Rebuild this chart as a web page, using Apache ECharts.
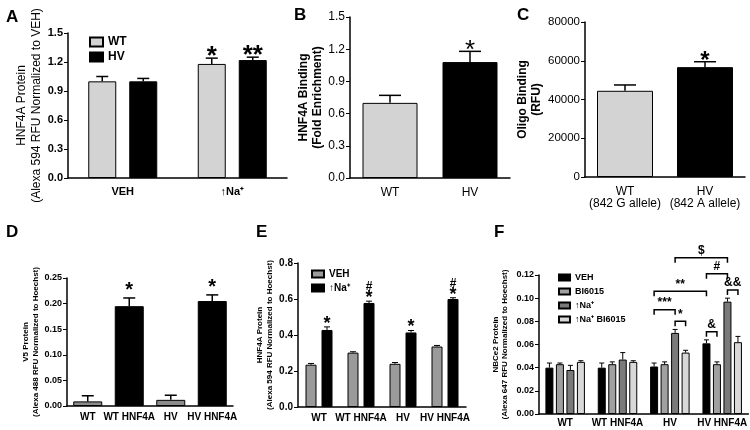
<!DOCTYPE html>
<html>
<head>
<meta charset="utf-8">
<script src="https://cdn.jsdelivr.net/npm/echarts@6/dist/echarts.min.js"></script>
<style>html,body{margin:0;padding:0;background:#fff}#c{width:750px;height:430px}</style>
</head>
<body>
<div id="c"></div>
<script>
// ---------- DATA ----------
// Panel A
const aCats = ['VEH', '↑Na⁺'];
const aWT = [1.00, 1.18];
const aWTTop = [1.05, 1.24];
const aHV = [1.00, 1.22];
const aHVTop = [1.03, 1.25];
const aWTSig = ['', '*'];
const aHVSig = ['', '**'];
// Panel B
const bCats = ['WT', 'HV'];
const bVals = [0.70, 1.08];
const bTop = [0.77, 1.18];
const bSig = ['', '*'];
// Panel C
const cCats = ['WT\n(842 G allele)', 'HV\n(842 A allele)'];
const cVals = [44500, 56700];
const cTop = [47500, 59500];
const cSig = ['', '*'];
// Panel D
const dCats = ['WT', 'WT HNF4A', 'HV', 'HV HNF4A'];
const dVals = [0.009, 0.195, 0.012, 0.205];
const dTop = [0.020, 0.211, 0.021, 0.217];
const dSig = ['', '*', '', '*'];
// Panel E
const eCats = ['WT', 'WT HNF4A', 'HV', 'HV HNF4A'];
const eVEH = [0.235, 0.302, 0.240, 0.336];
const eVEHTop = [0.242, 0.307, 0.247, 0.342];
const eNa = [0.428, 0.578, 0.414, 0.600];
const eNaTop = [0.445, 0.588, 0.425, 0.607];
const eNaSig = ['*', '#\n*', '*', '#\n*'];
// Panel F
const fCats = ['WT', 'WT HNF4A', 'HV', 'HV HNF4A'];
const fVEH = [0.040, 0.040, 0.041, 0.061];
const fVEHTop = [0.044, 0.044, 0.044, 0.064];
const fBI = [0.043, 0.043, 0.043, 0.043];
const fBITop = [0.044, 0.045, 0.045, 0.045];
const fNa = [0.038, 0.047, 0.070, 0.097];
const fNaTop = [0.042, 0.053, 0.073, 0.100];
const fNaBI = [0.045, 0.045, 0.053, 0.062];
const fNaBITop = [0.046, 0.046, 0.055, 0.067];
// brackets: [fromCategory, fromBar, toCategory, toBar, yValue]
const fBrackets = [
  [2, 0, 2, 2, 0.090],
  [2, 2, 2, 3, 0.080],
  [2, 0, 3, 0, 0.106],
  [3, 0, 3, 1, 0.071],
  [3, 0, 3, 2, 0.121],
  [2, 2, 3, 2, 0.135],
  [3, 2, 3, 3, 0.107]
];
const fBracketLabels = ['***', '*', '**', '&', '#', '$', '&&'];

// ---------- STYLE ----------
const FF = '"Liberation Sans", Arial, Helvetica, sans-serif';
const chart = echarts.init(document.getElementById('c'), null, {renderer: 'canvas'});

function gapPct(bw, gap) { return (gap / bw * 100) + '%'; }

function errSeries(gi, means, tops, sig, geo) {
  const {n, k, bw, gap, cap, lw, sigFont, sigOff} = geo;
  return {
    type: 'custom', xAxisIndex: gi, yAxisIndex: gi, z: 10, silent: true, clip: false,
    data: means.map((m, i) => [i, m, tops[i]]),
    encode: {x: 0, y: 1},
    renderItem: function (params, api) {
      const ci = api.value(0);
      const t = api.coord([ci, api.value(2)]);
      const b = api.coord([ci, api.value(1)]);
      const total = n * bw + (n - 1) * gap;
      const x = t[0] - total / 2 + k * (bw + gap) + bw / 2;
      const ch = [
        {type: 'line', shape: {x1: x, y1: b[1], x2: x, y2: t[1]}, style: {stroke: '#000', lineWidth: lw}},
        {type: 'line', shape: {x1: x - cap / 2, y1: t[1], x2: x + cap / 2, y2: t[1]}, style: {stroke: '#000', lineWidth: lw}}
      ];
      const s = sig ? sig[params.dataIndex] : '';
      if (s) {
        const lines = s.split('\n').reverse();
        lines.forEach((ln, j) => {
          ch.push({type: 'text', x: x, y: t[1] + (j === 0 ? sigOff : geo.upOff),
            style: {text: ln, textAlign: 'center', textVerticalAlign: 'bottom', align: 'center', verticalAlign: 'bottom',
              font: j === 0 ? sigFont : geo.upFont, fill: '#000'}});
        });
      }
      return {type: 'group', children: ch};
    }
  };
}

function barS(gi, name, data, color, bw, gap, extra) {
  return Object.assign({
    type: 'bar', name: name, xAxisIndex: gi, yAxisIndex: gi, data: data,
    barWidth: bw, barGap: gapPct(bw, gap),
    itemStyle: {color: color, borderColor: '#000', borderWidth: 1}
  }, extra || {});
}

function xAx(gi, cats, font, margin, extra) {
  return Object.assign({
    type: 'category', gridIndex: gi, data: cats,
    axisLine: {lineStyle: {color: '#000', width: 1.5}},
    axisTick: {show: false},
    axisLabel: Object.assign({color: '#000', fontFamily: FF, margin: margin, interval: 0}, font)
  }, extra || {});
}
function yAx(gi, min, max, interval, font, name, nameFont, nameGap, fmt) {
  return {
    type: 'value', gridIndex: gi, min: min, max: max, interval: interval,
    splitLine: {show: false},
    axisLine: {show: true, lineStyle: {color: '#000', width: 1.5}},
    axisTick: {show: true, length: 4, lineStyle: {color: '#000', width: 1}},
    axisLabel: Object.assign({color: '#000', fontFamily: FF, margin: 5, formatter: fmt}, font),
    name: name, nameLocation: 'middle', nameRotate: 90, nameGap: nameGap,
    nameTextStyle: Object.assign({color: '#000', fontFamily: FF, align: 'center'}, nameFont)
  };
}

const cLight = '#d3d3d3';
const fixed = d => v => v.toFixed(d);

const option = {
  animation: false,
  backgroundColor: '#fff',
  title: [
    {text: 'A', left: 1, top: 4},
    {text: 'B', left: 289, top: 2},
    {text: 'C', left: 512, top: 2},
    {text: 'D', left: 1, top: 219},
    {text: 'E', left: 251, top: 219},
    {text: 'F', left: 489, top: 219}
  ].map(t => Object.assign(t, {textStyle: {fontFamily: FF, fontSize: 17, fontWeight: 'bold', color: '#000'}})),
  grid: [
    {left: 68, top: 33, width: 219, height: 145},
    {left: 350, top: 17, width: 160, height: 161},
    {left: 585, top: 22, width: 160, height: 155},
    {left: 67, top: 278, width: 166, height: 128},
    {left: 298, top: 263, width: 168, height: 144},
    {left: 539, top: 275, width: 211, height: 139}
  ],
  legend: [
    {left: 84, top: 31, orient: 'vertical', itemWidth: 13, itemHeight: 9, itemGap: 3, icon: 'rect',
      data: ['WT', 'HV'], textStyle: {fontFamily: FF, fontSize: 12, fontWeight: 'bold', color: '#000'}},
    {left: 306, top: 264, orient: 'vertical', itemWidth: 12, itemHeight: 7, itemGap: 4, icon: 'rect',
      data: ['VEH', '↑Na⁺'], textStyle: {fontFamily: FF, fontSize: 10, fontWeight: 'bold', color: '#000'}},
    {left: 553, top: 268, orient: 'vertical', itemWidth: 11, itemHeight: 6, itemGap: 5, icon: 'rect',
      data: ['VEH\u200b', 'BI6015', '↑Na⁺\u200b', '↑Na⁺ BI6015'], textStyle: {fontFamily: FF, fontSize: 9, fontWeight: 'bold', color: '#000'}}
  ],
  xAxis: [
    xAx(0, aCats, {fontSize: 11, fontWeight: 'bold'}, 8),
    xAx(1, bCats, {fontSize: 12}, 9),
    xAx(2, cCats, {fontSize: 12, lineHeight: 12}, 9),
    xAx(3, dCats, {fontSize: 10, fontWeight: 'bold'}, 6),
    xAx(4, eCats, {fontSize: 10, fontWeight: 'bold'}, 6),
    xAx(5, fCats, {fontSize: 10, fontWeight: 'bold'}, 4)
  ],
  yAxis: [
    yAx(0, 0, 1.5, 0.3, {fontSize: 11, fontWeight: 'bold'}, 'HNF4A Protein\n(Alexa 594 RFU Normalized to VEH)', {fontSize: 12, lineHeight: 15}, 21, fixed(1)),
    yAx(1, 0, 1.5, 0.3, {fontSize: 12}, 'HNF4A Binding\n(Fold Enrichment)', {fontSize: 12, fontWeight: 'bold', lineHeight: 14}, 23, fixed(1)),
    yAx(2, 0, 80000, 20000, {fontSize: 11.5}, 'Oligo Binding\n(RFU)', {fontSize: 12, fontWeight: 'bold', lineHeight: 14}, 40, v => String(v)),
    yAx(3, 0, 0.25, 0.05, {fontSize: 9, fontWeight: 'bold'}, 'V5 Protein\n(Alexa 488 RFU Normalized to Hoechst)', {fontSize: 8, fontWeight: 'bold', lineHeight: 10}, 21, fixed(2)),
    yAx(4, 0, 0.8, 0.2, {fontSize: 10, fontWeight: 'bold'}, 'HNF4A Protein\n(Alexa 594 RFU Normalized to Hoechst)', {fontSize: 8, fontWeight: 'bold', lineHeight: 10}, 12, fixed(1)),
    yAx(5, 0, 0.12, 0.02, {fontSize: 9, fontWeight: 'bold'}, 'NBCe2 Protein\n(Alexa 647 RFU Normalized to Hoechst)', {fontSize: 8, fontWeight: 'bold', lineHeight: 9}, 30, fixed(2))
  ],
  series: [
    // A
    barS(0, 'WT', aWT, cLight, 28, 13),
    barS(0, 'HV', aHV, '#000', 28, 13),
    errSeries(0, aWT, aWTTop, aWTSig, {n: 2, k: 0, bw: 28, gap: 13, cap: 12, lw: 1.5, sigFont: 'bold 26px ' + FF, sigOff: 12}),
    errSeries(0, aHV, aHVTop, aHVSig, {n: 2, k: 1, bw: 28, gap: 13, cap: 12, lw: 1.5, sigFont: 'bold 26px ' + FF, sigOff: 12}),
    // B
    barS(1, 'B', bVals.map((v, i) => ({value: v, itemStyle: {color: i === 0 ? cLight : '#000'}})), cLight, 55, 0),
    errSeries(1, bVals, bTop, bSig, {n: 1, k: 0, bw: 55, gap: 0, cap: 22, lw: 1.5, sigFont: '26px ' + FF, sigOff: 12}),
    // C
    barS(2, 'C', cVals.map((v, i) => ({value: v, itemStyle: {color: i === 0 ? cLight : '#000'}})), cLight, 56, 0),
    errSeries(2, cVals, cTop, cSig, {n: 1, k: 0, bw: 56, gap: 0, cap: 22, lw: 1.5, sigFont: 'bold 24px ' + FF, sigOff: 12}),
    // D
    barS(3, 'D', dVals.map((v, i) => ({value: v, itemStyle: {color: i % 2 === 0 ? '#8c8c8c' : '#000'}})), '#000', 29, 0),
    errSeries(3, dVals, dTop, dSig, {n: 1, k: 0, bw: 29, gap: 0, cap: 12, lw: 1.5, sigFont: 'bold 20px ' + FF, sigOff: 3}),
    // E
    barS(4, 'VEH', eVEH, '#9a9a9a', 11, 5),
    barS(4, '↑Na⁺', eNa, '#000', 11, 5),
    errSeries(4, eVEH, eVEHTop, null, {n: 2, k: 0, bw: 11, gap: 5, cap: 6, lw: 1}),
    errSeries(4, eNa, eNaTop, eNaSig, {n: 2, k: 1, bw: 11, gap: 5, cap: 6, lw: 1, sigFont: 'bold 18px ' + FF, sigOff: 6,
      upFont: 'bold 12px ' + FF, upOff: -8}),
    // F
    barS(5, 'VEH\u200b', fVEH, '#000', 8, 2.5),
    barS(5, 'BI6015', fBI, '#a0a0a0', 8, 2.5),
    barS(5, '↑Na⁺\u200b', fNa, '#7a7a7a', 8, 2.5),
    barS(5, '↑Na⁺ BI6015', fNaBI, '#d8d8d8', 8, 2.5),
    errSeries(5, fVEH, fVEHTop, null, {n: 4, k: 0, bw: 8, gap: 2.5, cap: 5, lw: 1}),
    errSeries(5, fBI, fBITop, null, {n: 4, k: 1, bw: 8, gap: 2.5, cap: 5, lw: 1}),
    errSeries(5, fNa, fNaTop, null, {n: 4, k: 2, bw: 8, gap: 2.5, cap: 5, lw: 1}),
    errSeries(5, fNaBI, fNaBITop, null, {n: 4, k: 3, bw: 8, gap: 2.5, cap: 5, lw: 1}),
    {
      type: 'custom', xAxisIndex: 5, yAxisIndex: 5, z: 10, silent: true, clip: false,
      data: fBrackets, encode: {x: 0, y: 4},
      renderItem: function (params, api) {
        const n = 4, bw = 8, gap = 2.5, total = n * bw + (n - 1) * gap;
        const p1 = api.coord([api.value(0), api.value(4)]);
        const p2 = api.coord([api.value(2), api.value(4)]);
        const x1 = p1[0] - total / 2 + api.value(1) * (bw + gap) + bw / 2;
        const x2 = p2[0] - total / 2 + api.value(3) * (bw + gap) + bw / 2;
        const y = p1[1];
        return {type: 'group', children: [
          {type: 'polyline', shape: {points: [[x1, y + 5], [x1, y], [x2, y], [x2, y + 5]]},
            style: {stroke: '#000', lineWidth: 1.5, fill: null}},
          {type: 'text', x: (x1 + x2) / 2, y: y - 1,
            style: {text: fBracketLabels[params.dataIndex], textAlign: 'center', textVerticalAlign: 'bottom',
              align: 'center', verticalAlign: 'bottom', font: 'bold 12px ' + FF, fill: '#000'}}
        ]};
      }
    }
  ]
};
chart.setOption(option);
</script>
</body>
</html>
